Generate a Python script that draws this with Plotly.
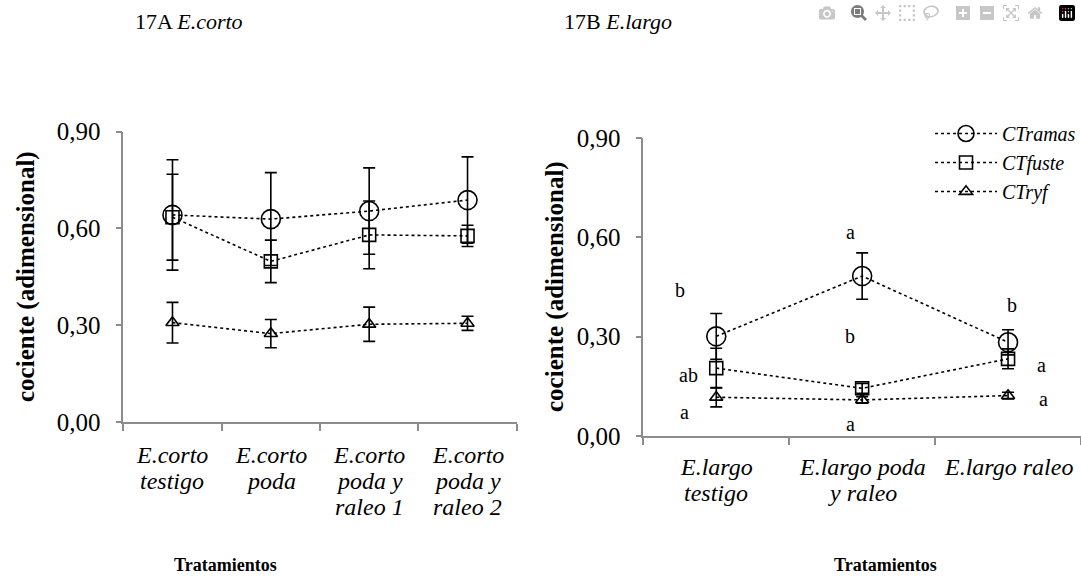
import plotly.graph_objects as go

# ---------------- data ----------------
cats_a = ["E.corto testigo", "E.corto poda", "E.corto poda y raleo 1", "E.corto poda y raleo 2"]
labels_a = [["E.corto", "testigo"], ["E.corto", "poda"], ["E.corto", "poda y", "raleo 1"], ["E.corto", "poda y", "raleo 2"]]
ramas_a = [0.642, 0.629, 0.654, 0.688]
ramas_a_err = [0.171, 0.144, 0.134, 0.134]
fuste_a = [0.635, 0.498, 0.580, 0.577]
fuste_a_err = [0.133, 0.066, 0.105, 0.033]
ryf_a = [0.308, 0.274, 0.303, 0.306]
ryf_a_err = [0.063, 0.044, 0.053, 0.022]

cats_b = ["E.largo testigo", "E.largo poda y raleo", "E.largo raleo"]
labels_b = [["E.largo", "testigo"], ["E.largo poda", "y raleo"], ["E.largo raleo"]]
ramas_b = [0.301, 0.483, 0.283]
ramas_b_err = [0.069, 0.070, 0.038]
fuste_b = [0.205, 0.144, 0.233]
fuste_b_err = [0.060, 0.015, 0.030]
ryf_b = [0.117, 0.109, 0.122]
ryf_b_err = [0.029, 0.010, 0.010]

series_names = ["CTramas", "CTfuste", "CTryf"]
y_ticks = [0.0, 0.3, 0.6, 0.9]

# significance letters on panel B: (category position, y, text)
letters_b = [(-0.25, 0.44, "b"), (0.92, 0.616, "a"), (2.03, 0.396, "b"),
             (0.92, 0.303, "b"), (-0.19, 0.185, "ab"), (2.23, 0.215, "a"),
             (-0.22, 0.074, "a"), (2.24, 0.112, "a"), (0.92, 0.037, "a")]

FONT = "Liberation Serif, Times New Roman, serif"
AX = "#8c8c8c"
W, H = 1081, 580

def px(x): return x / W
def py(y): return 1 - y / H

fig = go.Figure()

symbols = ["circle-open", "square-open", "triangle-up-open"]
sizes = [19, 13, 11.5]

def add_series(xc, ys, errs, xa, ya, show):
    for name, y, e, sym, sz in zip(series_names, ys, errs, symbols, sizes):
        fig.add_trace(go.Scatter(
            x=xc, y=y, name="<i>%s</i>" % name, mode="lines+markers",
            xaxis=xa, yaxis=ya, showlegend=show,
            line=dict(color="black", width=1.6, dash="dot"),
            marker=dict(symbol=sym, size=sz, color="black", line=dict(color="black", width=1.6)),
            error_y=dict(type="data", array=e, visible=True, color="black", thickness=1.6, width=6),
        ))

add_series(cats_a, [ramas_a, fuste_a, ryf_a], [ramas_a_err, fuste_a_err, ryf_a_err], "x", "y", False)
add_series(cats_b, [ramas_b, fuste_b, ryf_b], [ramas_b_err, fuste_b_err, ryf_b_err], "x2", "y2", True)

common_x = dict(type="category", tickson="boundaries", ticks="outside", ticklen=7,
                tickcolor=AX, tickwidth=1.5, showline=True, linecolor=AX, linewidth=1.5,
                showgrid=False, zeroline=False, showticklabels=False, automargin=False)
common_y = dict(range=[0, 0.9], tickvals=y_ticks, tickformat=".2f", ticks="outside", ticklen=6,
                tickcolor=AX, tickwidth=1.5, showline=True, linecolor=AX, linewidth=1.5,
                showgrid=False, zeroline=False, automargin=False, ticklabelstandoff=10,
                tickfont=dict(family=FONT, size=25, color="black"))

fig.update_layout(
    width=W, height=H, autosize=False,
    paper_bgcolor="white", plot_bgcolor="white",
    margin=dict(l=0, r=0, t=0, b=0, autoexpand=False),
    separators=",.",
    font=dict(family=FONT, color="black"),
    xaxis=dict(common_x, domain=[px(123.3), px(516.7)], range=[-0.5, 3.5], anchor="y"),
    yaxis=dict(common_y, domain=[py(422), py(131.7)], anchor="x"),
    xaxis2=dict(common_x, domain=[px(643.3), 1.0], range=[-0.5, 2.5], anchor="y2"),
    yaxis2=dict(common_y, domain=[py(436), py(138)], anchor="x2"),
    legend=dict(x=px(930), y=py(114), xanchor="left", yanchor="top",
                font=dict(family=FONT, size=20, color="black"),
                itemwidth=62, bgcolor="rgba(0,0,0,0)", tracegroupgap=0),
    showlegend=True,
)

ann = []
def text(x, y, t, size, xref="paper", yref="paper", angle=0):
    ann.append(dict(x=x, y=y, xref=xref, yref=yref, text=t, showarrow=False,
                    xanchor="center", yanchor="middle", textangle=angle,
                    font=dict(family=FONT, size=size, color="black")))

for xo, yv, t in letters_b:
    text(xo, yv, t, 20, "x2", "y2")

# category labels, one annotation per line
for i, lines in enumerate(labels_a):
    for j, ln in enumerate(lines):
        text(i, py(455 + 26 * j), "<i>%s</i>" % ln, 24, "x", "paper")
for i, lines in enumerate(labels_b):
    for j, ln in enumerate(lines):
        text(i, py(467 + 26 * j), "<i>%s</i>" % ln, 24, "x2", "paper")

text(px(189), py(22), "17A <i>E.corto</i>", 22)
text(px(618), py(22), "17B <i>E.largo</i>", 22)
text(px(225), py(565), "<b>Tratamientos</b>", 18)
text(px(885), py(565), "<b>Tratamientos</b>", 18)
text(px(26), py(277), "<b>cociente (adimensional)</b>", 25, angle=-90)
text(px(555), py(287), "<b>cociente (adimensional)</b>", 25, angle=-90)
fig.update_layout(annotations=ann)

fig.write_html("out.html", post_script="document.body.style.margin='0';")
